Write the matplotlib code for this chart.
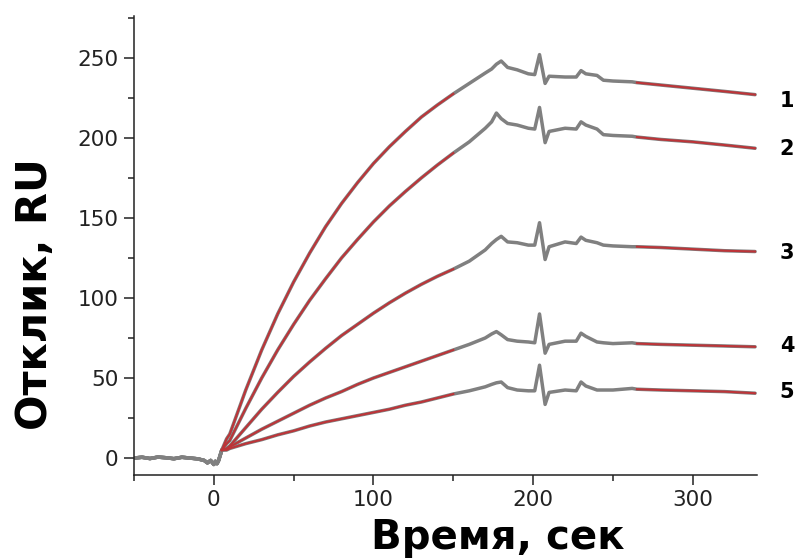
import numpy as np
import matplotlib
matplotlib.use("Agg")
import matplotlib.pyplot as plt
from matplotlib.ticker import MultipleLocator

# baseline before injection (shared by all curves)
t_base = [-50, -45, -40, -35, -30, -25, -20, -15, -10, -6, -4, -2, 0, 1, 2, 3]
v_base = [0, 0.5, -0.3, 0.6, 0.2, -0.4, 0.5, 0, -0.5, -1.5, -3, -1.5, -4, -2, -3.5, -1.5]

# time grid of the injection / dissociation part, seconds
t_run = [5, 8, 10, 20, 30, 40, 50, 60, 70, 80, 90, 100, 110, 120, 130, 140, 150,
         160, 170, 174, 177, 180, 184, 190, 197, 201, 204, 207.5, 210, 220, 227,
         230, 233, 240, 244, 250, 262, 265, 280, 300, 320, 339]

curve1 = [5, 12, 15, 42.5, 67.5, 90, 110, 128, 144.5, 159, 172, 184, 194.5, 204, 213, 220.5, 227.5,
          234, 240.5, 243, 246, 248, 244, 242.5, 240, 239.5, 252, 234, 238.5, 238, 238,
          242, 240, 239, 236, 235.5, 235, 234.5, 233, 231, 229, 227]
curve2 = [5, 9, 11, 31, 50, 67.5, 83.5, 98.5, 112, 125, 136.5, 147.5, 157.5, 166.5, 175, 183, 190.5,
          197.5, 206, 210, 215.5, 212, 209, 208, 206, 205.5, 219, 197, 204, 206, 205.5,
          210, 208, 205.5, 202, 201.5, 201, 200.5, 199, 197.5, 195.5, 193.5]
curve3 = [5, 6, 7.5, 19, 30.5, 41, 51, 60, 68.5, 76.5, 83.5, 90.5, 97, 103, 108.5, 113.5, 118,
          123, 130, 134, 136.5, 138.5, 135, 134.5, 133, 133, 147, 124, 132, 135, 134,
          138, 136, 134.5, 133, 132.5, 132, 132, 131.5, 130.5, 129.5, 129]
curve4 = [5, 5.5, 7, 12.5, 18, 23, 28, 33, 37.5, 41.5, 46, 50, 53.5, 57, 60.5, 64, 67.5,
          71, 75, 77.5, 79, 77, 74, 73, 72.5, 72, 90, 65.5, 71, 73, 73,
          78, 76, 72.5, 72, 71.5, 72, 71.5, 71, 70.5, 70, 69.5]
curve5 = [5, 5, 6, 9, 11.5, 14.5, 17, 20, 22.5, 24.5, 26.5, 28.5, 30.5, 33, 35, 37.5, 40,
          42, 44.5, 46, 47, 47.5, 44, 42.5, 42, 42, 58, 33.5, 41, 42.5, 42,
          47.5, 45, 42.5, 42.5, 42.5, 43.5, 43, 42.5, 42, 41.5, 40.5]

curves = [curve1, curve2, curve3, curve4, curve5]
labels = ['1', '2', '3', '4', '5']
label_y = [223, 193, 128, 70, 41]

grey = '#808080'
red = '#bd3438'

fig = plt.figure(figsize=(7.99, 5.58), dpi=100)
ax = fig.add_axes([0.1677, 0.1487, 0.7793, 0.8223])

t_run_arr = np.array(t_run)
assoc = (t_run_arr >= 5) & (t_run_arr <= 150)
dissoc = t_run_arr >= 265

for vals, lab, ly in zip(curves, labels, label_y):
    t = np.array(t_base + t_run)
    v = np.array(v_base + vals)
    ax.plot(t, v, color=grey, lw=2.5, solid_capstyle='round', zorder=2)
    vals = np.array(vals)
    ax.plot(t_run_arr[assoc], vals[assoc], color=red, lw=1.5, zorder=3)
    ax.plot(t_run_arr[dissoc], vals[dissoc], color=red, lw=1.5, zorder=3)
    ax.text(359, ly, lab, fontsize=15, fontweight='bold', ha='center', va='center',
            clip_on=False)

ax.set_xlim(-50, 340)
ax.set_ylim(-10.6, 276)

ax.spines['top'].set_visible(False)
ax.spines['right'].set_visible(False)
for s in ['left', 'bottom']:
    ax.spines[s].set_linewidth(1.1)
    ax.spines[s].set_color('#222222')

ax.xaxis.set_major_locator(MultipleLocator(100))
ax.xaxis.set_minor_locator(MultipleLocator(50))
ax.yaxis.set_major_locator(MultipleLocator(50))
ax.yaxis.set_minor_locator(MultipleLocator(25))
ax.tick_params(which='major', length=7, width=1.1, labelsize=15.5, pad=4,
               color='#222222', labelcolor='#222222')
ax.tick_params(which='minor', length=4, width=1.1, color='#222222')

ax.set_xlabel('Время, сек', fontsize=29, fontweight='bold')
ax.set_ylabel('Отклик, RU', fontsize=30, fontweight='bold')
ax.xaxis.set_label_coords(0.585, -0.094)
ax.yaxis.set_label_coords(-0.125, 0.395)

plt.savefig('out.png', dpi=100)
